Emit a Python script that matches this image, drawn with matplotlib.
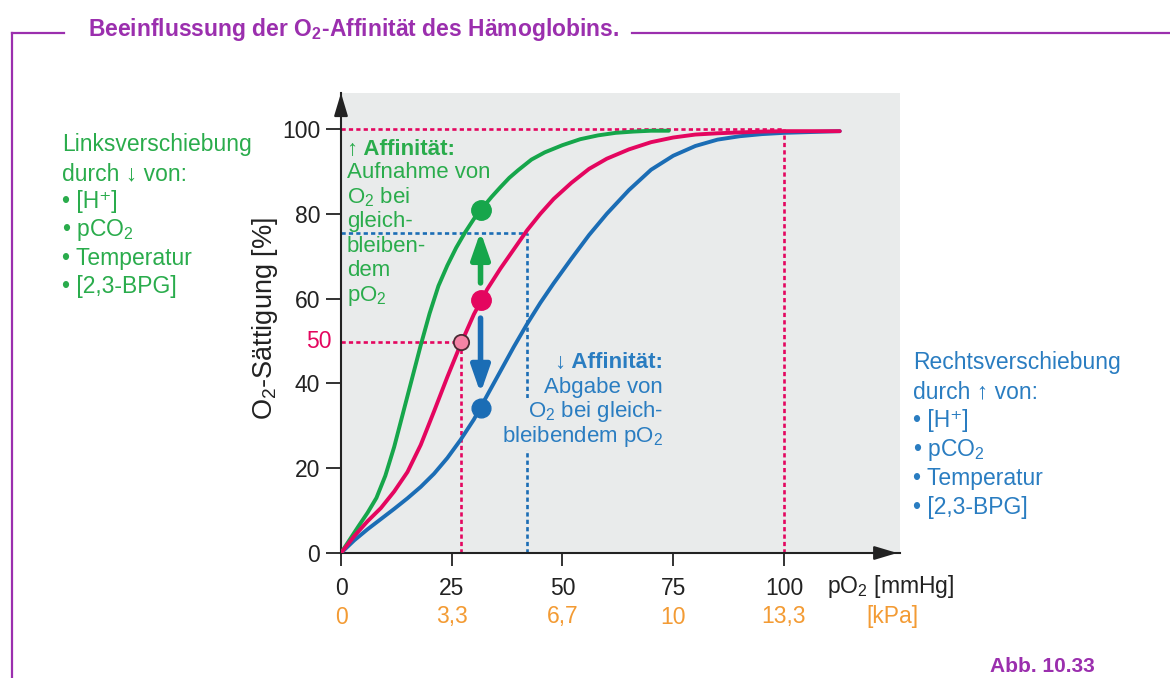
import matplotlib
matplotlib.use("Agg")
import matplotlib.pyplot as plt
from matplotlib.lines import Line2D
from matplotlib.transforms import blended_transform_factory

plt.rcParams['font.family'] = ['Liberation Sans', 'DejaVu Sans']
plt.rcParams['mathtext.fontset'] = 'custom'
plt.rcParams['mathtext.rm'] = 'Liberation Sans'
plt.rcParams['mathtext.it'] = 'Liberation Sans:italic'
plt.rcParams['mathtext.bf'] = 'Liberation Sans:bold'

# --- data (pO2 in mmHg, saturation in %) ---
# left shifted curve (higher affinity)
left_x = [0, 2, 4, 6, 8, 10, 12, 14, 16, 18, 20, 22, 24, 26, 28, 30, 32, 34, 36, 38, 40,
          43, 46, 50, 54, 58, 62, 66, 70, 74]
left_y = [0, 3.2, 6.4, 9.5, 13.0, 18.2, 25.0, 33.0, 41.0, 49.0, 56.5, 63.0, 67.8, 72.0, 75.6,
          78.8, 81.5, 84.0, 86.3, 88.5, 90.3, 92.8, 94.5, 96.2, 97.6, 98.5, 99.1, 99.4, 99.6, 99.6]

# normal curve
normal_x = [0, 3, 6, 9, 12, 15, 18, 21, 24, 27, 30, 33, 36, 39, 42, 45, 48, 52, 56, 60, 65,
            70, 75, 80, 85, 90, 95, 100, 112.6]
normal_y = [0, 4.0, 7.5, 10.6, 14.5, 19.1, 25.5, 33.4, 41.5, 49.2, 56.3, 62.2, 67.1, 71.6,
            76.1, 80.0, 83.5, 87.3, 90.6, 93.0, 95.2, 96.9, 98.0, 98.7, 99.0, 99.2, 99.4, 99.5, 99.5]

# right shifted curve (lower affinity)
right_x = [0, 3, 6, 9, 12, 15, 18, 21, 24, 27, 30, 33, 36, 39, 42, 45, 48, 52, 56, 60, 65,
           70, 75, 80, 85, 90, 95, 100, 112.6]
right_y = [0, 3.0, 5.6, 8.0, 10.4, 12.9, 15.6, 18.7, 22.4, 26.7, 31.5, 37.2, 42.9, 48.6, 54.0,
           59.0, 63.6, 69.4, 75.0, 80.0, 85.6, 90.4, 93.7, 96.0, 97.5, 98.3, 98.8, 99.1, 99.5]

po2_mark = 31.5
sat_left, sat_normal, sat_right = 80.9, 59.6, 34.3
p50 = (27.2, 49.7)
venous = (42, 75.5)
arterial = (100, 100)
up_arrow = (63.7, 75.8)
down_arrow = (55.4, 37.7)

mmhg_ticks = [0, 25, 50, 75, 100]
kpa_labels = ['0', '3,3', '6,7', '10', '13,3']
sat_ticks = [0, 20, 40, 60, 80, 100]

left_lines = ["Linksverschiebung", "durch \u2193 von:", "\u2022 [H\u207a]", "\u2022 pCO$_2$",
              "\u2022 Temperatur", "\u2022 [2,3-BPG]"]
right_lines = ["Rechtsverschiebung", "durch \u2191 von:", "\u2022 [H\u207a]", "\u2022 pCO$_2$",
               "\u2022 Temperatur", "\u2022 [2,3-BPG]"]
up_lines = ["\u2191 Affinität:", "Aufnahme von", "O$_2$ bei", "gleich-", "bleiben-", "dem", "pO$_2$"]
down_lines = ["\u2193 Affinität:", "Abgabe von", "O$_2$ bei gleich-", "bleibendem pO$_2$"]

GREEN = '#16a64b'
GREEN_T = '#2aac4c'
RED = '#e4065f'
BLUE = '#1b6db5'
BLUE_T = '#2a7dc1'
ORANGE = '#f39b34'
PURPLE = '#9b2fae'
DARK = '#222222'
BG = '#e9ebeb'

W, H = 1170, 678
fig = plt.figure(figsize=(W / 100, H / 100), dpi=100)


def fx(px):
    return px / W


def fy(py):
    return 1 - py / H


ax = fig.add_axes([fx(341), fy(553), (900 - 341) / W, (553 - 93) / H])
ax.set_facecolor(BG)
ax.set_xlim(0, 126.2)
ax.set_ylim(0, 108.5)
for s in ['top', 'right']:
    ax.spines[s].set_visible(False)
for s in ['left', 'bottom']:
    ax.spines[s].set_color(DARK)
    ax.spines[s].set_linewidth(1.5)

ax.set_xticks(mmhg_ticks)
ax.set_yticks(sat_ticks)
ax.tick_params(axis='y', length=11, width=1.3, pad=4, labelsize=16.5, colors=DARK)
ax.tick_params(axis='x', length=9, width=1.3, pad=8, labelsize=16.5, colors=DARK)

# axis arrowheads
arr = dict(arrowstyle='-|>,head_width=0.3,head_length=1.0', color=DARK, lw=1.5,
           mutation_scale=14, shrinkA=0, shrinkB=0)
ax.annotate('', xy=(0, 1.0), xytext=(0, 0.95), xycoords='axes fraction', arrowprops=arr,
            annotation_clip=False)
ax.annotate('', xy=(0.995, 0), xytext=(0.95, 0), xycoords='axes fraction', arrowprops=arr,
            annotation_clip=False)

# helper lines
dash = (0, (1.6, 1.2))
ax.plot([0, arterial[0]], [arterial[1], arterial[1]], color=RED, lw=1.9, ls=dash, zorder=2)
ax.plot([arterial[0], arterial[0]], [0, arterial[1]], color=RED, lw=1.9, ls=dash, zorder=2)
ax.plot([0, p50[0]], [p50[1], p50[1]], color=RED, lw=1.9, ls=dash, zorder=2)
ax.plot([p50[0], p50[0]], [0, p50[1]], color=RED, lw=1.9, ls=dash, zorder=2)
ax.plot([0, venous[0]], [venous[1], venous[1]], color=BLUE, lw=1.9, ls=dash, zorder=2)
ax.plot([venous[0], venous[0]], [0, venous[1]], color=BLUE, lw=1.9, ls=dash, zorder=2)

# curves
ax.plot(right_x, right_y, color=BLUE, lw=2.8, zorder=4, solid_capstyle='round', solid_joinstyle='round')
ax.plot(left_x, left_y, color=GREEN, lw=2.8, zorder=4, solid_capstyle='round', solid_joinstyle='round')
ax.plot(normal_x, normal_y, color=RED, lw=2.8, zorder=5, solid_capstyle='round', solid_joinstyle='round')

# dots
ax.plot(po2_mark, sat_left, 'o', color=GREEN, ms=14, zorder=6)
ax.plot(po2_mark, sat_normal, 'o', color=RED, ms=14, zorder=6)
ax.plot(po2_mark, sat_right, 'o', color=BLUE, ms=13.5, zorder=6)
ax.plot(p50[0], p50[1], 'o', color='#f483a5', mec='#4a2a33', mew=1.3, ms=11, zorder=6)

# arrows
ax.annotate('', xy=(po2_mark, up_arrow[1]), xytext=(po2_mark, up_arrow[0]),
            arrowprops=dict(arrowstyle='-|>,head_width=0.28,head_length=0.8', color=GREEN,
                            lw=4, mutation_scale=20, shrinkA=0, shrinkB=0), zorder=6)
ax.annotate('', xy=(po2_mark, down_arrow[1]), xytext=(po2_mark, down_arrow[0]),
            arrowprops=dict(arrowstyle='-|>,head_width=0.28,head_length=0.8', color=BLUE,
                            lw=4, mutation_scale=20, shrinkA=0, shrinkB=0), zorder=6)

# texts inside the plot
for i, (t, b) in enumerate(zip(up_lines, [155, 178, 203, 227, 252, 276, 301])):
    fig.text(fx(347), fy(b), t, color=GREEN_T, fontsize=16, va='baseline', ha='left',
             fontweight='bold' if i == 0 else 'normal')
for i, (t, b) in enumerate(zip(down_lines, [368, 393, 417, 442])):
    txt = fig.text(fx(663), fy(b), t, color=BLUE_T, fontsize=16, va='baseline', ha='right',
                   fontweight='bold' if i == 0 else 'normal', zorder=3)
    if i >= 1:
        txt.set_bbox(dict(facecolor=BG, edgecolor='none', pad=1))

# side texts
for t, b in zip(left_lines, [151, 180, 208, 236, 265, 293]):
    fig.text(fx(62), fy(b), t, color=GREEN_T, fontsize=16.5, va='baseline')
for t, b in zip(right_lines, [369, 398, 427, 456, 485, 514]):
    fig.text(fx(913), fy(b), t, color=BLUE_T, fontsize=16.5, va='baseline')

# axis labels
fig.text(fx(265), fy(318), "O$_2$-Sättigung [%]", rotation=90, fontsize=19.5, color=DARK,
         ha='center', va='center')
fig.text(fx(332), fy(348), "50", color=RED, fontsize=16.5, ha='right', va='baseline')
fig.text(fx(827), fy(593), "pO$_2$ [mmHg]", fontsize=16.5, color=DARK, va='baseline')
tr = blended_transform_factory(ax.transData, fig.transFigure)
for x, lab in zip(mmhg_ticks, kpa_labels):
    ax.text(x, fy(617), lab, transform=tr, color=ORANGE, fontsize=16.5, ha='center', va='center')
fig.text(fx(892), fy(617), "[kPa]", color=ORANGE, fontsize=16.5, ha='center', va='center')

# frame and title
fig.text(fx(88), fy(36), "Beeinflussung der O$_\\mathbf{2}$-Affinität des Hämoglobins.",
         color=PURPLE, fontsize=16.5, fontweight='bold', va='baseline')
fig.add_artist(Line2D([fx(12), fx(64)], [fy(33), fy(33)], color=PURPLE, lw=1.6))
fig.add_artist(Line2D([fx(632), fx(1170)], [fy(33), fy(33)], color=PURPLE, lw=1.6))
fig.add_artist(Line2D([fx(12), fx(12)], [fy(33), fy(678)], color=PURPLE, lw=1.6))
fig.text(fx(990), fy(657), "Abb. 10.33", color=PURPLE, fontsize=15, fontweight='bold', va='top')

fig.savefig("out.png", dpi=100)
